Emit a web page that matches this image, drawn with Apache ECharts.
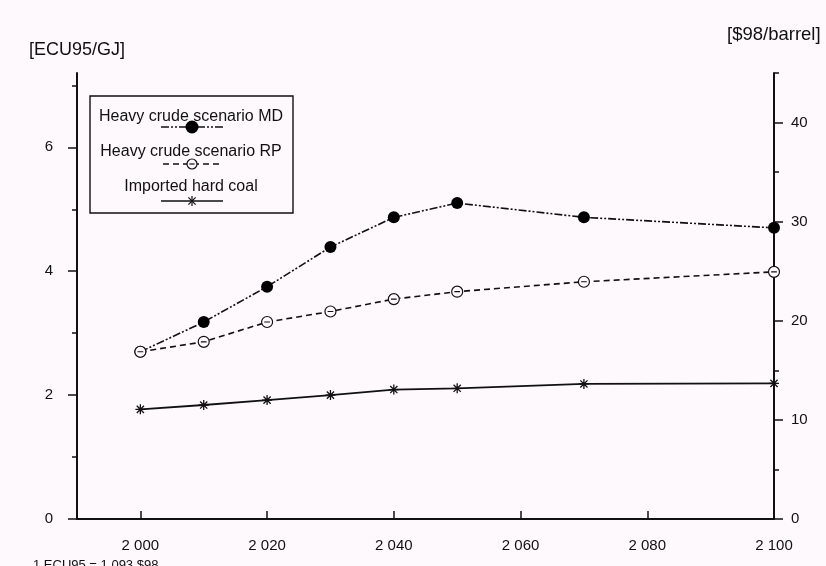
<!DOCTYPE html>
<html><head><meta charset="utf-8">
<script src="https://cdn.jsdelivr.net/npm/echarts@6/dist/echarts.min.js"></script>
<style>html,body{margin:0;padding:0;background:#fdf9fd}#c{width:826px;height:566px}</style>
</head><body><div id="c"></div>
<script>
const years = [2000, 2010, 2020, 2030, 2040, 2050, 2070, 2100];
const mdValues = [2.70, 3.18, 3.75, 4.39, 4.87, 5.10, 4.87, 4.70];
const rpValues = [2.70, 2.86, 3.18, 3.35, 3.55, 3.67, 3.83, 3.99];
const coalValues = [1.77, 1.84, 1.92, 2.00, 2.09, 2.11, 2.18, 2.19];
const seriesNames = ['Heavy crude scenario MD', 'Heavy crude scenario RP', 'Imported hard coal'];
const xTicks = [2000, 2020, 2040, 2060, 2080, 2100];
const leftMajor = [0, 2, 4, 6];
const leftMinor = [1, 3, 5, 7];
const rightMajor = [0, 10, 20, 30, 40];
const rightMinor = [5, 15, 25, 35, 45];
const leftName = '[ECU95/GJ]';
const rightName = '[$98/barrel]';
const footnote = '1 ECU95 = 1.093 $98';

const FONT = 'Liberation Sans';
const BG = '#fdf9fd';
const INK = '#111';
const mdDash = [8, 2, 2, 2, 2, 2];
const rpDash = [6, 4];
const circleMinus = 'path://M-5,0A5,5,0,1,0,5,0A5,5,0,1,0,-5,0ZM-2.6,0L2.6,0';
const asterisk = 'path://M0,-5L0,5M-5,0L5,0M-3.6,-3.6L3.6,3.6M-3.6,3.6L3.6,-3.6';

const pairs = arr => years.map((y, i) => [y, arr[i]]);
const fmtYear = v => { const s = String(v); return s.slice(0, 1) + ' ' + s.slice(1); };

const axisLineStyle = { show: true, lineStyle: { color: INK, width: 2 } };
function yAxisDef(pos, max, majors, minors, margin, len, minorLen) {
  return [
    {
      type: 'value', position: pos, min: 0, max: max,
      axisLine: axisLineStyle,
      axisTick: { show: true, customValues: majors, length: len, lineStyle: { color: INK, width: 1.5 } },
      axisLabel: { show: true, customValues: majors, margin: margin, color: INK, fontFamily: FONT, fontSize: 15 },
      splitLine: { show: false }
    },
    {
      type: 'value', position: pos, min: 0, max: max,
      axisLine: { show: false },
      axisTick: { show: true, customValues: minors, length: minorLen, lineStyle: { color: INK, width: 1.5 } },
      axisLabel: { show: false },
      splitLine: { show: false }
    }
  ];
}

const chart = echarts.init(document.getElementById('c'), null, { renderer: 'canvas' });

const legendX1 = 161, legendX2 = 223, legendCx = 192;
const legendRows = [127, 164, 201];
const legendTextY = [117, 152, 187];

const graphic = [
  { type: 'text', left: 29, top: 41, style: { text: leftName, font: '18px ' + FONT, fill: INK } },
  { type: 'text', left: 727, top: 25, style: { text: rightName, font: '18.5px ' + FONT, fill: INK } },
  { type: 'text', left: 33, top: 559, style: { text: footnote, font: '13px ' + FONT, fill: INK } },
  { type: 'rect', shape: { x: 90, y: 96, width: 203, height: 117 }, style: { fill: BG, stroke: INK, lineWidth: 1.4 }, z: 10 },
  { type: 'line', shape: { x1: legendX1, y1: legendRows[0], x2: legendX2, y2: legendRows[0] }, style: { stroke: INK, lineWidth: 1.4, lineDash: mdDash }, z: 11 },
  { type: 'circle', shape: { cx: legendCx, cy: legendRows[0], r: 6.5 }, style: { fill: '#000' }, z: 12 },
  { type: 'line', shape: { x1: legendX1 + 2, y1: legendRows[1], x2: legendX2, y2: legendRows[1] }, style: { stroke: INK, lineWidth: 1.4, lineDash: rpDash }, z: 11 },
  { type: 'circle', shape: { cx: legendCx, cy: legendRows[1], r: 5 }, style: { fill: BG, stroke: INK, lineWidth: 1.2 }, z: 12 },
  { type: 'line', shape: { x1: legendCx - 2.6, y1: legendRows[1], x2: legendCx + 2.6, y2: legendRows[1] }, style: { stroke: INK, lineWidth: 1.2 }, z: 13 },
  { type: 'line', shape: { x1: legendX1, y1: legendRows[2], x2: legendX2, y2: legendRows[2] }, style: { stroke: INK, lineWidth: 1.6 }, z: 11 },
  { type: 'line', shape: { x1: legendCx, y1: legendRows[2] - 5, x2: legendCx, y2: legendRows[2] + 5 }, style: { stroke: INK, lineWidth: 1.2 }, z: 12 },
  { type: 'line', shape: { x1: legendCx - 3.6, y1: legendRows[2] - 3.6, x2: legendCx + 3.6, y2: legendRows[2] + 3.6 }, style: { stroke: INK, lineWidth: 1.2 }, z: 12 },
  { type: 'line', shape: { x1: legendCx - 3.6, y1: legendRows[2] + 3.6, x2: legendCx + 3.6, y2: legendRows[2] - 3.6 }, style: { stroke: INK, lineWidth: 1.2 }, z: 12 }
];
seriesNames.forEach((n, i) => {
  graphic.push({ type: 'text', x: 191, y: legendTextY[i], style: { text: n, font: '16px ' + FONT, fill: INK, align: 'center', verticalAlign: 'middle' }, z: 12 });
});

const option = {
  backgroundColor: BG,
  animation: false,
  grid: { left: 77, right: 52, top: 73, bottom: 47, containLabel: false },
  xAxis: {
    type: 'value', min: 1990, max: 2100,
    axisLine: axisLineStyle,
    axisTick: { show: true, inside: true, customValues: xTicks, length: 8, lineStyle: { color: INK, width: 1.5 } },
    axisLabel: { customValues: xTicks, formatter: fmtYear, margin: 19, color: INK, fontFamily: FONT, fontSize: 15 },
    splitLine: { show: false }
  },
  yAxis: [
    ...yAxisDef('left', 7.2, leftMajor, leftMinor, 24, 9, 5),
    ...yAxisDef('right', 45, rightMajor, rightMinor, 17, 9, 5)
  ],
  series: [
    {
      name: seriesNames[0], type: 'line', yAxisIndex: 0, data: pairs(mdValues),
      symbol: 'circle', symbolSize: 12,
      lineStyle: { color: INK, width: 1.6, type: mdDash },
      itemStyle: { color: '#000' }, z: 3
    },
    {
      name: seriesNames[1], type: 'line', yAxisIndex: 0, data: pairs(rpValues),
      symbol: circleMinus, symbolSize: 11,
      lineStyle: { color: INK, width: 1.6, type: rpDash },
      itemStyle: { color: BG, borderColor: INK, borderWidth: 1.2 }, z: 3
    },
    {
      name: seriesNames[2], type: 'line', yAxisIndex: 0, data: pairs(coalValues),
      symbol: asterisk, symbolSize: 10,
      lineStyle: { color: INK, width: 1.8 },
      itemStyle: { color: BG, borderColor: INK, borderWidth: 1.3 }, z: 3
    }
  ],
  graphic: graphic
};
chart.setOption(option);
</script>
</body></html>
